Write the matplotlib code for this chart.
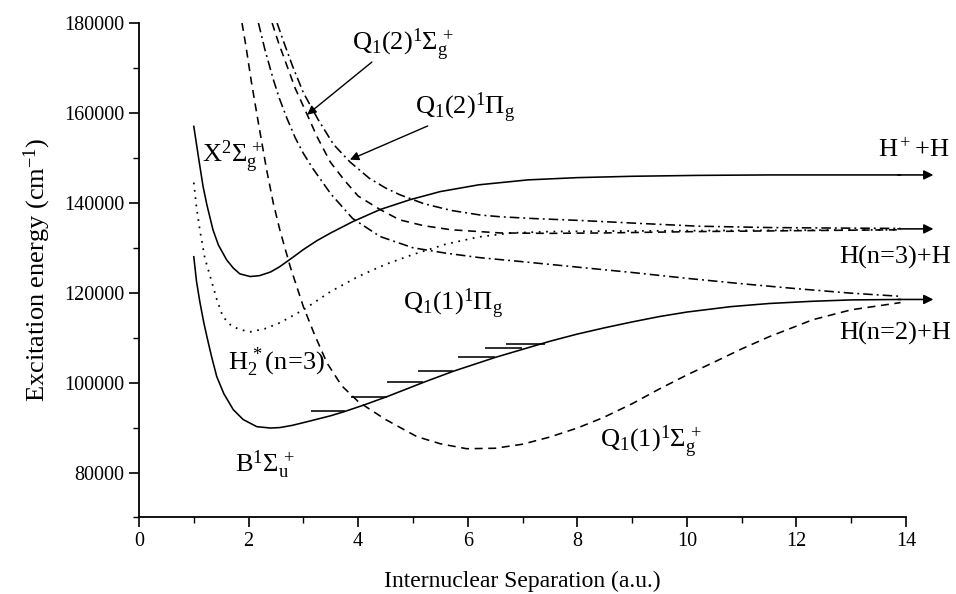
import matplotlib
matplotlib.use("Agg")
import matplotlib.pyplot as plt
from matplotlib.ticker import MultipleLocator

plt.rcParams["font.family"] = ["Liberation Serif", "DejaVu Serif"]
plt.rcParams["mathtext.fontset"] = "custom"
plt.rcParams["mathtext.rm"] = "Liberation Serif"
plt.rcParams["mathtext.it"] = "Liberation Serif:italic"
plt.rcParams["mathtext.bf"] = "Liberation Serif:bold"

# X 2Sigma_g+ (H2+ ground state), solid
X_R = [1.0, 1.05, 1.1, 1.17, 1.24, 1.35, 1.45, 1.6, 1.72, 1.84, 2.03, 2.2, 2.4, 2.57,
       2.8, 3.0, 3.25, 3.5, 3.9, 4.4, 4.95, 5.5, 6.2, 7.1, 8.0, 9.0, 10.2, 11.5, 13.0, 13.9]
X_E = [157000, 153000, 149000, 143600, 139500, 134000, 130600, 127300, 125500, 124200,
       123600, 123800, 124600, 125800, 127800, 129600, 131600, 133300, 135800, 138500,
       140700, 142500, 144000, 145100, 145600, 145900, 146100, 146200, 146200, 146200]

# B 1Sigma_u+, solid
B_R = [1.0, 1.05, 1.11, 1.18, 1.24, 1.32, 1.42, 1.55, 1.72, 1.9, 2.15, 2.4, 2.57, 2.8,
       3.1, 3.49, 3.76, 4.1, 4.53, 5.18, 5.73, 6.5, 7.0, 7.5, 8.0, 8.5, 9.0, 9.5, 10.0,
       10.8, 11.5, 12.3, 13.0, 13.9]
B_E = [128000, 122500, 118000, 113500, 110200, 106000, 101300, 97500, 94000, 91800,
       90200, 89900, 90000, 90500, 91400, 92600, 93600, 95000, 96900, 100000, 102500,
       105600, 107400, 109200, 110800, 112200, 113500, 114700, 115700, 116900, 117600,
       118100, 118400, 118500]

# H2*(n=3), dotted
H3_R = [1.0, 1.05, 1.11, 1.2, 1.3, 1.42, 1.53, 1.68, 1.84, 2.03, 2.3, 2.57, 3.0, 3.49,
        4.0, 4.5, 5.0, 5.6, 6.2, 6.8, 7.5, 8.5, 10.0, 12.0, 13.9]
H3_E = [144500, 139000, 134000, 127800, 123600, 118500, 114700, 112700, 111800, 111300,
        112000, 113300, 116200, 120200, 123600, 126300, 128500, 130800, 132400, 133300,
        133600, 133700, 133800, 133900, 134000]

# Q1(1) 1Sigma_g+, dashed
Q1S_R = [1.88, 1.95, 2.05, 2.17, 2.33, 2.45, 2.57, 2.76, 3.0, 3.2, 3.43, 3.7, 4.0, 4.16,
         4.5, 5.07, 5.5, 5.98, 6.5, 7.0, 7.5, 8.0, 8.47, 9.0, 9.5, 10.0, 10.47, 11.0,
         11.5, 12.3, 13.0, 13.9]
Q1S_E = [180000, 175000, 167000, 158400, 147300, 140000, 134000, 125800, 116900, 110800,
         104400, 99300, 95800, 94500, 91800, 88000, 86400, 85300, 85400, 86300, 87900,
         89900, 92200, 95300, 98600, 101700, 104400, 107500, 110200, 114000, 116200, 117800]

# Q1(1) 1Pi_g, dash-dot
Q1P_R = [2.18, 2.3, 2.45, 2.56, 2.7, 2.85, 3.0, 3.18, 3.5, 3.9, 4.4, 5.0, 5.6, 6.22, 7.0,
         8.0, 9.0, 10.0, 11.0, 12.0, 13.0, 13.9]
Q1P_E = [180000, 174000, 167500, 163300, 158800, 154500, 151000, 147500, 142000, 136500,
         132500, 130000, 128800, 127800, 126900, 125700, 124500, 123200, 122000, 120900,
         119900, 119200]

# Q1(2) 1Sigma_g+, dashed
Q2S_R = [2.43, 2.55, 2.7, 2.85, 3.07, 3.25, 3.49, 3.75, 4.0, 4.4, 4.76, 5.2, 5.7, 6.59,
         7.5, 8.5, 10.2, 12.0, 13.9]
Q2S_E = [180000, 175500, 170500, 165500, 159600, 154700, 149100, 145000, 141500, 138500,
         136200, 134900, 134000, 133300, 133200, 133300, 133600, 133800, 134000]

# Q1(2) 1Pi_g, dash-dot
Q2P_R = [2.52, 2.65, 2.8, 3.0, 3.27, 3.55, 3.85, 4.2, 4.5, 4.76, 5.2, 5.7, 6.22, 6.59,
         7.2, 8.0, 9.0, 10.2, 11.5, 12.5, 13.9]
Q2P_E = [180000, 175500, 170500, 164500, 158500, 153000, 149100, 145500, 143300, 141800,
         139800, 138300, 137300, 136900, 136500, 136100, 135500, 134800, 134500, 134400,
         134300]

# vibrational levels of the B state
VIB_E = [93600, 96900, 100200, 102500, 105600, 107600, 108700]
VIB_R0 = [3.14, 3.87, 4.53, 5.09, 5.82, 6.31, 6.70]
VIB_R1 = [3.76, 4.53, 5.18, 5.73, 6.50, 6.99, 7.41]

# dissociation limits (arrows on the right)
LIMIT_E = [146200, 134200, 118500]
LIMIT_R = [13.85, 14.5]

DASH = (0, (5.0, 3.5))
DASHDOT = (0, (6.0, 2.5, 1.2, 2.5))
DOT = (0, (1.0, 3.2))
LW = 1.15


def main():
    fig = plt.figure(figsize=(9.56, 5.94), dpi=100)
    ax = fig.add_axes([0.1454, 0.1288, 0.8023, 0.8325])

    ax.plot(X_R, X_E, color="black", lw=LW)
    ax.plot(B_R, B_E, color="black", lw=LW)
    ax.plot(H3_R, H3_E, color="black", lw=LW * 1.1, linestyle=DOT)
    ax.plot(Q1S_R, Q1S_E, color="black", lw=LW, linestyle=DASH)
    ax.plot(Q1P_R, Q1P_E, color="black", lw=LW, linestyle=DASHDOT)
    ax.plot(Q2S_R, Q2S_E, color="black", lw=LW, linestyle=DASH)
    ax.plot(Q2P_R, Q2P_E, color="black", lw=LW, linestyle=DASHDOT)
    ax.hlines(VIB_E, VIB_R0, VIB_R1, color="black", lw=LW)

    for e in LIMIT_E:
        ax.annotate("", xy=(LIMIT_R[1], e), xytext=(LIMIT_R[0], e),
                    arrowprops=dict(arrowstyle="-|>", color="black", lw=LW,
                                    mutation_scale=14, shrinkA=0, shrinkB=0),
                    annotation_clip=False)

    fs = 19
    ax.text(3.89, 174000, r"$\mathrm{Q_1(2)^1\Sigma_g^{\,+}}$", fontsize=fs, ha="left", va="baseline")
    ax.annotate("", xy=(3.07, 159600), xytext=(4.25, 171300),
                arrowprops=dict(arrowstyle="-|>", color="black", lw=1.0,
                                mutation_scale=13, shrinkA=0, shrinkB=0))
    ax.text(5.04, 159600, r"$\mathrm{Q_1(2)^1\Pi_g}$", fontsize=fs, ha="left", va="baseline")
    ax.annotate("", xy=(3.85, 149600), xytext=(5.27, 157100),
                arrowprops=dict(arrowstyle="-|>", color="black", lw=1.0,
                                mutation_scale=13, shrinkA=0, shrinkB=0))
    ax.text(1.15, 149100, r"$\mathrm{X^2\Sigma_g^{\,+}}$", fontsize=fs, ha="left", va="baseline")
    ax.text(1.62, 102900, r"$\mathrm{H_2^{\,*}(n\!=\!3)}$", fontsize=fs, ha="left", va="baseline")
    ax.text(1.75, 80230, r"$\mathrm{B^1\Sigma_u^{\,+}}$", fontsize=fs, ha="left", va="baseline")
    ax.text(4.82, 116200, r"$\mathrm{Q_1(1)^1\Pi_g}$", fontsize=fs, ha="left", va="baseline")
    ax.text(8.41, 85600, r"$\mathrm{Q_1(1)^1\Sigma_g^{\,+}}$", fontsize=fs, ha="left", va="baseline")
    ax.text(13.49, 150200, r"$\mathrm{H^+\!+\!H}$", fontsize=fs, ha="left", va="baseline",
            clip_on=False)
    ax.text(12.79, 126400, "H(n=3)+H", fontsize=fs, ha="left", va="baseline", clip_on=False)
    ax.text(12.79, 109600, "H(n=2)+H", fontsize=fs, ha="left", va="baseline", clip_on=False)

    ax.set_xlim(0, 14)
    ax.set_ylim(70000, 180000)
    ax.xaxis.set_major_locator(MultipleLocator(2))
    ax.xaxis.set_minor_locator(MultipleLocator(1))
    ax.yaxis.set_minor_locator(MultipleLocator(10000))
    ax.set_yticks([80000, 100000, 120000, 140000, 160000, 180000])

    for side in ("top", "right"):
        ax.spines[side].set_visible(False)
    for side in ("left", "bottom"):
        ax.spines[side].set_linewidth(1.3)
    ax.tick_params(which="major", direction="out", length=7, width=1.2, labelsize=14.5)
    ax.tick_params(which="minor", direction="out", length=4.5, width=1.0)

    ax.set_xlabel("Internuclear Separation (a.u.)", fontsize=17, labelpad=14)
    ax.set_ylabel(r"Excitation energy (cm$^{\mathrm{-1}}$)", fontsize=19, labelpad=8)

    fig.savefig("out.png", dpi=100, facecolor="white")


if __name__ == "__main__":
    main()
